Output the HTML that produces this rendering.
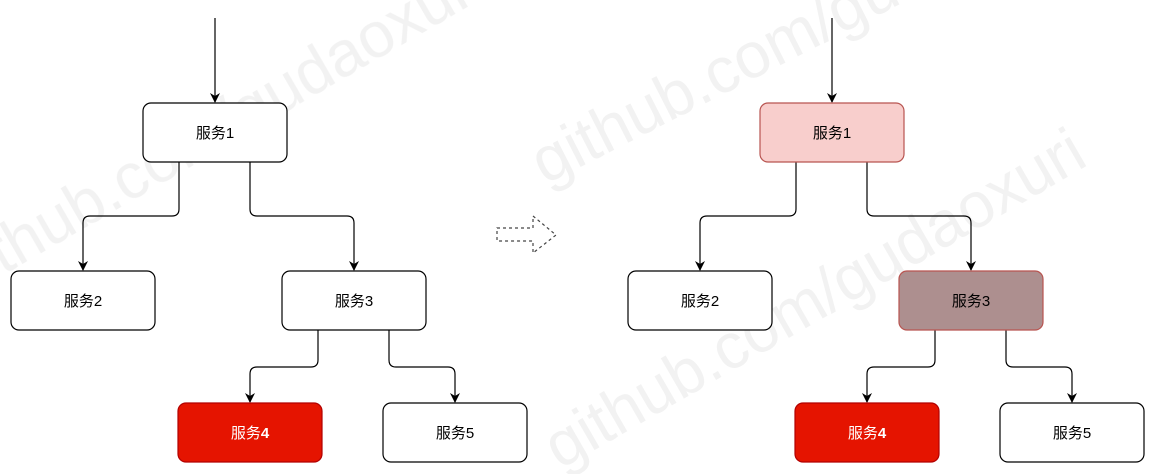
<!DOCTYPE html>
<html><head><meta charset="utf-8"><style>
html,body{margin:0;padding:0;background:#fff;width:1154px;height:474px;overflow:hidden}
text{font-family:"Liberation Sans","Noto Sans CJK SC",sans-serif;font-size:15px}
</style></head><body>
<svg width="1154" height="474" viewBox="0 0 1154 474" xmlns="http://www.w3.org/2000/svg">
<defs>
<marker id="a" markerWidth="10" markerHeight="10" refX="9" refY="5" orient="auto" markerUnits="userSpaceOnUse">
<path d="M0,0 L10,5 L0,10 L3,5 Z" fill="#000"/></marker>
</defs>
<g opacity="0.8">
<text x="0" y="0" transform="translate(-40,300) rotate(-30)" style="font-size:64px;fill:#efefef">github.com/gudaoxuri</text>
<text x="0" y="0" transform="translate(545,185) rotate(-27)" style="font-size:64px;fill:#efefef">github.com/gudaoxuri</text>
<text x="0" y="0" transform="translate(560,470) rotate(-30)" style="font-size:64px;fill:#efefef">github.com/gudaoxuri</text>
</g>
<g fill="none" stroke="#000" stroke-width="1.2">
<path d="M215,18 V102" marker-end="url(#a)"/>
<path d="M179,162 V209 q0,7 -7,7 H90 q-7,0 -7,7 V270" marker-end="url(#a)"/>
<path d="M250,162 V209 q0,7 7,7 H347 q7,0 7,7 V270" marker-end="url(#a)"/>
<path d="M318,330 V360 q0,7 -7,7 H257 q-7,0 -7,7 V402" marker-end="url(#a)"/>
<path d="M389,330 V360 q0,7 7,7 H448 q7,0 7,7 V402" marker-end="url(#a)"/>
<path d="M832,18 V102" marker-end="url(#a)"/>
<path d="M796,162 V209 q0,7 -7,7 H707 q-7,0 -7,7 V270" marker-end="url(#a)"/>
<path d="M867,162 V209 q0,7 7,7 H964 q7,0 7,7 V270" marker-end="url(#a)"/>
<path d="M935,330 V360 q0,7 -7,7 H874 q-7,0 -7,7 V402" marker-end="url(#a)"/>
<path d="M1006,330 V360 q0,7 7,7 H1065 q7,0 7,7 V402" marker-end="url(#a)"/>
</g>
<path d="M497,228 H533 V216 L556,235 L533,253 V241 H497 Z" fill="#fff" stroke="#444" stroke-width="1.2" stroke-dasharray="3,3"/>
<g stroke-width="1.2">
<rect x="143" y="103" width="144" height="59" rx="8" fill="#fff" stroke="#000"/>
<rect x="11" y="271" width="144" height="59" rx="8" fill="#fff" stroke="#000"/>
<rect x="282" y="271" width="144" height="59" rx="8" fill="#fff" stroke="#000"/>
<rect x="178" y="403" width="144" height="59" rx="8" fill="#e51400" stroke="#b20000"/>
<rect x="383" y="403" width="144" height="59" rx="8" fill="#fff" stroke="#000"/>
<rect x="760" y="103" width="144" height="59" rx="8" fill="#f8cecc" stroke="#b85450"/>
<rect x="628" y="271" width="144" height="59" rx="8" fill="#fff" stroke="#000"/>
<rect x="899" y="271" width="144" height="59" rx="8" fill="#ad8f8f" stroke="#b85450"/>
<rect x="795" y="403" width="144" height="59" rx="8" fill="#e51400" stroke="#b20000"/>
<rect x="1000" y="403" width="144" height="59" rx="8" fill="#fff" stroke="#000"/>
</g>
<g text-anchor="middle">
<text x="215" y="138">服务1</text>
<text x="83" y="306">服务2</text>
<text x="354" y="306">服务3</text>
<text x="250" y="438" fill="#fff">服务<tspan font-weight="bold">4</tspan></text>
<text x="455" y="438">服务5</text>
<text x="832" y="138">服务1</text>
<text x="700" y="306">服务2</text>
<text x="971" y="306">服务3</text>
<text x="867" y="438" fill="#fff">服务<tspan font-weight="bold">4</tspan></text>
<text x="1072" y="438">服务5</text>
</g>
</svg>
</body></html>
